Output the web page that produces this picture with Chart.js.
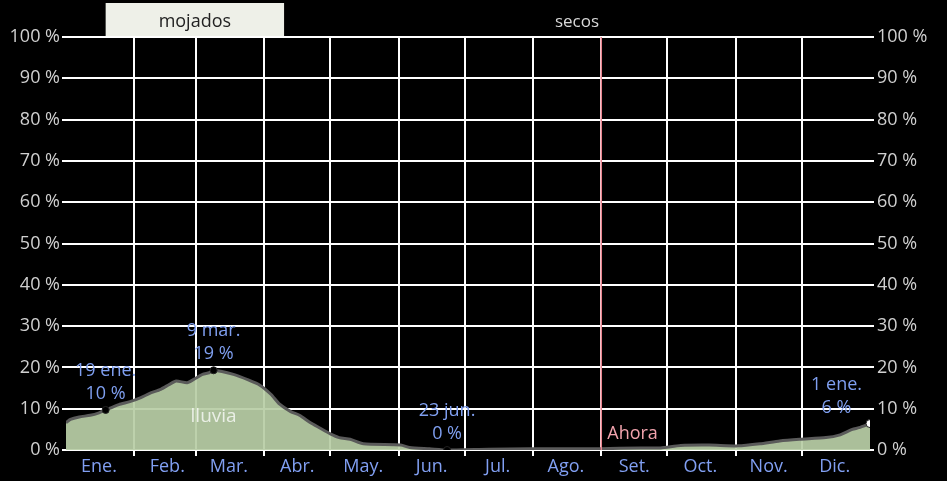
<!DOCTYPE html>
<html>
<head>
<meta charset="utf-8">
<script src="https://cdn.jsdelivr.net/npm/chart.js@4"></script>
<style>
  html, body { margin: 0; padding: 0; background: #000; }
  #wrap { width: 947px; height: 481px; }
</style>
</head>
<body>
<div id="wrap"><canvas id="rain-chart" width="947" height="481"></canvas></div>
<script>
// month names and the day of year each month starts on
const monthNames = ["Ene.", "Feb.", "Mar.", "Abr.", "May.", "Jun.", "Jul.", "Ago.", "Set.", "Oct.", "Nov.", "Dic."];
const monthStart = [0, 31, 59, 90, 120, 151, 181, 212, 243, 273, 304, 334, 365];

// daily chance of rain (%)
const days = [0, 2, 6, 11, 15, 18, 24, 29, 34, 38, 43, 47, 50, 55, 58, 62, 65, 67, 76, 83, 88, 93, 97, 102, 106, 111, 115, 120, 124, 129, 135, 152, 156, 165, 173, 192, 211, 229, 242, 261, 270, 279, 292, 305, 315, 324, 333, 345, 351, 357, 360, 365];
const rain = [6.6, 7.4, 8.0, 8.4, 9.0, 9.7, 11.0, 11.7, 12.7, 13.7, 14.7, 15.9, 16.7, 16.3, 17.1, 18.3, 18.7, 19.3, 18.3, 16.9, 15.7, 13.5, 11.1, 9.3, 8.4, 6.6, 5.4, 3.9, 3.0, 2.6, 1.5, 1.2, 0.6, 0.3, 0.0, 0.2, 0.3, 0.3, 0.3, 0.5, 0.5, 1.1, 1.2, 1.0, 1.5, 2.2, 2.6, 3.0, 3.6, 5.0, 5.4, 6.4];

// highlighted days
const markDays = [18, 67, 173, 365];
const markNames = ["19 ene.", "9 mar.", "23 jun.", "1 ene."];

// seasons + today
const wetSeason = [18, 99];
const seasonNames = ["mojados", "secos"];
const nowDay = 243;
const nowLabel = "Ahora";
const seriesLabel = "lluvia";

const FONT = '"Open Sans", "Noto Sans", sans-serif';
Chart.defaults.font.family = FONT;

const extras = {
  id: "extras",
  beforeDraw(chart) {
    const ctx = chart.ctx;
    const x = chart.scales.x;
    const ca = chart.chartArea;
    const x0 = x.getPixelForValue(wetSeason[0]);
    const x1 = x.getPixelForValue(wetSeason[1]);
    ctx.save();
    ctx.fillStyle = "#eef0e8";
    ctx.fillRect(x0, 3, x1 - x0, ca.top - 4);
    ctx.font = "18px " + FONT;
    ctx.textAlign = "center";
    ctx.textBaseline = "middle";
    ctx.fillStyle = "#222";
    ctx.fillText(seasonNames[0], (x0 + x1) / 2, 22);
    ctx.fillStyle = "#d8d8d8";
    ctx.font = "17px " + FONT;
    ctx.fillText(seasonNames[1], (x1 + ca.right) / 2, 22);
    ctx.restore();
  },
  afterDatasetsDraw(chart) {
    const ctx = chart.ctx;
    const x = chart.scales.x;
    const y = chart.scales.y;
    const ca = chart.chartArea;
    ctx.save();
    // now line
    const nx = x.getPixelForValue(nowDay);
    ctx.strokeStyle = "#e8838f";
    ctx.lineWidth = 1.5;
    ctx.beginPath();
    ctx.moveTo(nx, ca.top);
    ctx.lineTo(nx, ca.bottom);
    ctx.stroke();
    ctx.font = "18px " + FONT;
    ctx.fillStyle = "#f2a3ad";
    ctx.textAlign = "left";
    ctx.textBaseline = "middle";
    ctx.fillText(nowLabel, nx + 6, ca.bottom - 16);

    // series label
    ctx.fillStyle = "rgba(255,255,255,0.75)";
    ctx.textAlign = "center";
    ctx.font = "19px " + FONT;
    ctx.fillText(seriesLabel, x.getPixelForValue(markDays[1]), y.getPixelForValue(8));

    // highlighted values
    ctx.font = "18px " + FONT;
    ctx.fillStyle = "#7f9ff0";
    markDays.forEach((d, i) => {
      const v = rain[days.indexOf(d)];
      const px = x.getPixelForValue(d);
      const py = y.getPixelForValue(v);
      const l1 = markNames[i];
      const l2 = Math.round(v) + " %";
      const w = Math.max(ctx.measureText(l1).width, ctx.measureText(l2).width);
      const cx = Math.min(px, ca.right - w / 2 - 8);
      ctx.fillText(l1, cx, py - 39);
      ctx.fillText(l2, cx, py - 16);
    });
    ctx.restore();
  }
};

const config = {
  type: "line",
  data: {
    datasets: [
      {
        label: seriesLabel,
        data: days.map((d, i) => ({ x: d, y: rain[i] })),
        borderColor: "#5a5a5a",
        borderWidth: 3,
        backgroundColor: "rgba(184,206,166,0.93)",
        fill: "origin",
        tension: 0.2,
        pointRadius: (c) => markDays.includes(days[c.dataIndex]) ? (days[c.dataIndex] === 365 ? 4 : 3.5) : 0,
        pointBackgroundColor: (c) => days[c.dataIndex] === 365 ? "#fff" : "#000",
        pointBorderColor: "#222",
        pointBorderWidth: 1,
      },
    ],
  },
  options: {
    responsive: false,
    animation: false,
    events: [],
    layout: { padding: { top: 37 } },
    plugins: {
      legend: { display: false },
      tooltip: { enabled: false },
    },
    scales: {
      x: {
        type: "linear",
        min: 0,
        max: 365,
        afterBuildTicks: (axis) => {
          axis.ticks = monthStart.map((v) => ({ value: v }));
        },
        afterFit: (axis) => { axis.height = 31; },
        border: { display: false },
        grid: {
          color: (c) => (c.tick && (c.tick.value === 0 || c.tick.value === 365)) ? "transparent" : "#fff",
          lineWidth: 2,
          tickLength: 6,
        },
        ticks: {
          autoSkip: false,
          maxRotation: 0,
          padding: 0,
          labelOffset: 33,
          color: "#819ff2",
          font: { size: 18 },
          callback: (v, i) => monthNames[i] || "",
        },
      },
      y: {
        position: "left",
        min: 0,
        max: 100,
        afterFit: (axis) => { axis.width = 66; },
        border: { display: false },
        grid: { color: "#fff", lineWidth: 2, tickLength: 4 },
        ticks: {
          stepSize: 10,
          padding: 2,
          color: "#d0d0d0",
          font: { size: 18 },
          callback: (v) => v + " %",
        },
      },
      y2: {
        position: "right",
        min: 0,
        max: 100,
        afterFit: (axis) => { axis.width = 77; },
        border: { display: false },
        grid: { color: "#fff", lineWidth: 2, tickLength: 4, drawOnChartArea: false },
        ticks: {
          stepSize: 10,
          padding: 3,
          color: "#d0d0d0",
          font: { size: 18 },
          callback: (v) => v + " %",
        },
      },
    },
  },
  plugins: [extras],
};

const ctx = document.getElementById("rain-chart");
const rainChart = new Chart(ctx, config);
</script>
</body>
</html>
